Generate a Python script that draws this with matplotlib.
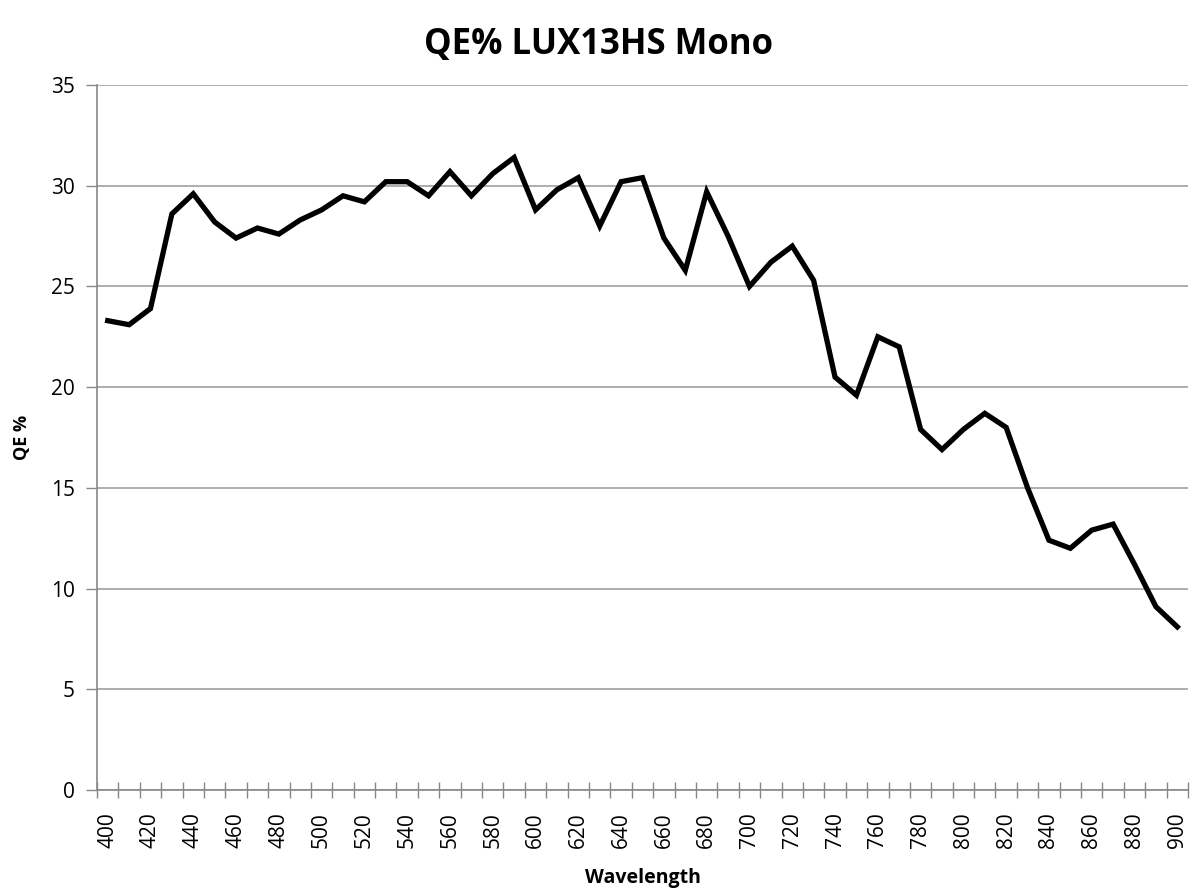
import matplotlib.pyplot as plt
import numpy as np

plt.rcParams["font.family"] = ["Open Sans", "DejaVu Sans"]

# wavelength categories (nm) and quantum efficiency (%)
wavelength = list(range(400, 901, 10))
qe = [23.3, 23.1, 23.9, 28.6, 29.6, 28.2, 27.4, 27.9, 27.6, 28.3,
      28.8, 29.5, 29.2, 30.2, 30.2, 29.5, 30.7, 29.5, 30.6, 31.4,
      28.8, 29.8, 30.4, 28.0, 30.2, 30.4, 27.4, 25.8, 29.7, 27.5,
      25.0, 26.2, 27.0, 25.3, 20.5, 19.6, 22.5, 22.0, 17.9, 16.9,
      17.9, 18.7, 18.0, 15.0, 12.4, 12.0, 12.9, 13.2, 11.2, 9.1,
      8.1]
y_ticks = [0, 5, 10, 15, 20, 25, 30, 35]

fig = plt.figure(figsize=(11.97, 8.90), dpi=100)
ax = fig.add_axes([97 / 1197, 1 - 790 / 890, (1188 - 97) / 1197, (790 - 85) / 890])

x = np.arange(len(wavelength))
ax.plot(x, qe, color="black", lw=3.8, solid_joinstyle="miter", zorder=3)

ax.set_xlim(-0.5, len(wavelength) - 0.5)
ax.set_ylim(0, 35)

# labels every second category, tick marks between categories
ax.set_xticks(x[::2])
ax.set_xticklabels([str(w) for w in wavelength[::2]], rotation=90, fontsize=15)
ax.set_xticks(np.arange(-0.5, len(wavelength), 1), minor=True)
ax.tick_params(axis="x", which="major", length=0, pad=16)
ax.tick_params(axis="x", which="minor", direction="inout", length=12,
               color="#888888", width=1)

ax.set_yticks(y_ticks)
ax.tick_params(axis="y", labelsize=15, length=8, color="#888888", width=1, pad=8)

ax.grid(axis="y", color="#a0a0a0", lw=1.2, zorder=1)
ax.set_axisbelow(True)

for s in ["top", "right"]:
    ax.spines[s].set_visible(False)
for s in ["left", "bottom"]:
    ax.spines[s].set_color("#888888")
    ax.spines[s].set_linewidth(1.2)

ax.set_xlabel("Wavelength", fontsize=14, fontweight="bold", labelpad=14)
ax.set_ylabel("QE %", fontsize=13, fontweight="bold", labelpad=14)
fig.suptitle("QE% LUX13HS Mono", fontsize=25, fontweight="bold", y=0.97)

fig.savefig("out.png", dpi=100)
